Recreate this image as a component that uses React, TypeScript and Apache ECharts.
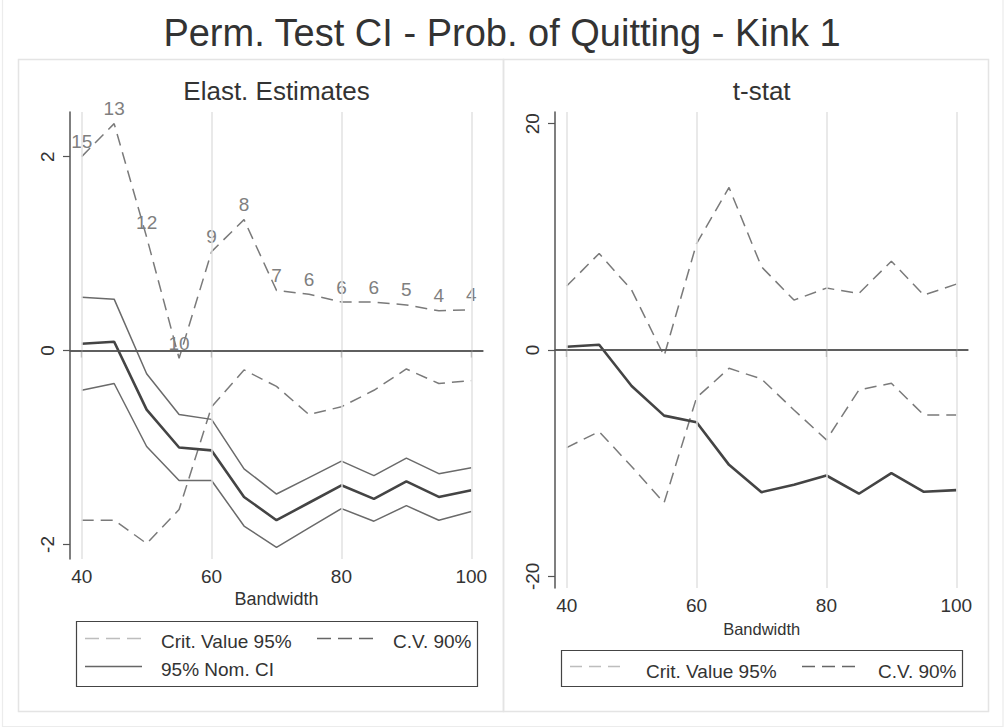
import React, { useEffect, useRef } from "react";
import * as echarts from "echarts";

const FONT = "'Liberation Sans', Arial, Helvetica, sans-serif";

const bandwidth = [40, 45, 50, 55, 60, 65, 70, 75, 80, 85, 90, 95, 100];
const xTicks = [40, 60, 80, 100];
const elastTicks = [-2, 0, 2];
const tTicks = [-20, 0, 20];

// Left panel: elasticity estimates
const cv90UpperElast = [2.0, 2.34, 1.17, -0.08, 1.02, 1.35, 0.62, 0.58, 0.5, 0.5, 0.47, 0.41, 0.42];
const cv90UpperLabels = ["15", "13", "12", "10", "9", "8", "7", "6", "6", "6", "5", "4", "4"];
const cv90LowerElast = [-1.75, -1.75, -1.99, -1.64, -0.58, -0.2, -0.37, -0.66, -0.58, -0.41, -0.19, -0.34, -0.31];
const estimate = [0.07, 0.09, -0.61, -1.0, -1.03, -1.51, -1.75, -1.57, -1.39, -1.53, -1.35, -1.51, -1.44];
const ciUpper = [0.55, 0.53, -0.24, -0.66, -0.71, -1.22, -1.48, -1.31, -1.14, -1.29, -1.11, -1.27, -1.21];
const ciLower = [-0.41, -0.34, -0.99, -1.34, -1.34, -1.81, -2.03, -1.83, -1.63, -1.76, -1.6, -1.75, -1.66];

// Right panel: t-stat
const tUpper = [5.65, 8.53, 5.3, -0.53, 9.41, 14.36, 7.35, 4.41, 5.47, 5.0, 7.85, 4.85, 5.82];
const tLower = [-8.62, -7.21, -10.3, -13.5, -4.21, -1.62, -2.56, -5.3, -7.94, -3.53, -2.94, -5.74, -5.74];
const tStat = [0.29, 0.47, -3.18, -5.8, -6.38, -10.15, -12.56, -11.9, -11.09, -12.7, -10.88, -12.53, -12.38];

const pairs = (arr: number[]) => bandwidth.map((b, i) => [b, arr[i]]);

const AXIS_COLOR = "#555555";
const DASH_COLOR = "#7a7a7a";
const CI_COLOR = "#6a6a6a";
const EST_COLOR = "#444444";
const DASH = [12, 7];

function makeXAxis(gridIndex: number) {
  return {
    type: "value",
    gridIndex,
    min: 38.2,
    max: 101.8,
    axisLine: { show: true, lineStyle: { color: AXIS_COLOR, width: 1.5 } },
    axisTick: { show: true, customValues: xTicks, length: 7, lineStyle: { color: AXIS_COLOR, width: 1.2 } },
    axisLabel: { customValues: xTicks, fontSize: 19, color: "#333", margin: 8, fontFamily: FONT },
    splitLine: { show: false },
  };
}

function makeYAxis(gridIndex: number, min: number, max: number, ticks: number[]) {
  return {
    type: "value",
    gridIndex,
    min,
    max,
    axisLine: { show: true, onZero: false, lineStyle: { color: AXIS_COLOR, width: 1.5 } },
    axisTick: { show: true, customValues: ticks, length: 7, lineStyle: { color: AXIS_COLOR, width: 1.2 } },
    axisLabel: { customValues: ticks, fontSize: 19, color: "#333", margin: 13, rotate: 90, fontFamily: FONT },
    splitLine: { show: false },
  };
}

function gridCarrier(idx: number) {
  return {
    type: "line",
    xAxisIndex: idx,
    yAxisIndex: idx,
    data: [],
    silent: true,
    z: 1,
    markLine: {
      silent: true,
      symbol: "none",
      label: { show: false },
      animation: false,
      data: [
        ...xTicks.map((v) => ({ xAxis: v, lineStyle: { color: "#e2e2e2", width: 1.5, type: "solid" } })),
        { yAxis: 0, lineStyle: { color: AXIS_COLOR, width: 1.5, type: "solid" } },
      ],
    },
  };
}

function lineSeries(idx: number, data: number[], color: string, width: number, dashed: boolean, extra: any = {}) {
  return {
    type: "line",
    xAxisIndex: idx,
    yAxisIndex: idx,
    data: pairs(data),
    symbol: "none",
    z: 3,
    lineStyle: { color, width, type: dashed ? DASH : "solid" },
    ...extra,
  };
}

function legendGraphics(): any[] {
  const txt = (x: number, y: number, text: string) => ({
    type: "text",
    x,
    y,
    style: { text, fontSize: 19, fontFamily: FONT, fill: "#333", verticalAlign: "middle" },
  });
  const ln = (x1: number, x2: number, y: number, color: string, dash: number[] | null) => ({
    type: "line",
    shape: { x1, y1: y, x2, y2: y },
    style: { stroke: color, lineWidth: 1.5, lineDash: dash || undefined },
  });
  return [
    // outer frame and panel frames
    { type: "rect", shape: { x: 2.5, y: -3, width: 1000.5, height: 729.5 }, style: { fill: "none", stroke: "#ececec", lineWidth: 1.2 } },
    { type: "rect", shape: { x: 18.5, y: 59.5, width: 485, height: 652 }, style: { fill: "none", stroke: "#e4e4e4", lineWidth: 1.5 } },
    { type: "rect", shape: { x: 503.5, y: 59.5, width: 485, height: 652 }, style: { fill: "none", stroke: "#e4e4e4", lineWidth: 1.5 } },
    // titles
    {
      type: "text",
      x: 502,
      y: 33,
      style: { text: "Perm. Test CI - Prob. of Quitting - Kink 1", fontSize: 38, fontFamily: FONT, fill: "#333", align: "center", verticalAlign: "middle" },
    },
    { type: "text", x: 276.5, y: 91, style: { text: "Elast. Estimates", fontSize: 26, fontFamily: FONT, fill: "#333", align: "center", verticalAlign: "middle" } },
    { type: "text", x: 761.7, y: 91, style: { text: "t-stat", fontSize: 26, fontFamily: FONT, fill: "#333", align: "center", verticalAlign: "middle" } },
    { type: "text", x: 276.5, y: 598.5, style: { text: "Bandwidth", fontSize: 18, fontFamily: FONT, fill: "#333", align: "center", verticalAlign: "middle" } },
    { type: "text", x: 761.7, y: 629.3, style: { text: "Bandwidth", fontSize: 16.5, fontFamily: FONT, fill: "#333", align: "center", verticalAlign: "middle" } },
    // left legend
    { type: "rect", shape: { x: 76.5, y: 621.5, width: 401, height: 65 }, style: { fill: "#fff", stroke: "#444", lineWidth: 1.2 } },
    ln(85, 142, 638.5, "#bdbdbd", [14, 7]),
    txt(161, 641.5, "Crit. Value 95%"),
    ln(317, 375, 638.5, "#666", [14, 7]),
    txt(393, 641.5, "C.V. 90%"),
    ln(85, 142, 666.5, "#666", null),
    txt(161, 669.5, "95% Nom. CI"),
    // right legend
    { type: "rect", shape: { x: 561.5, y: 650.5, width: 401, height: 36 }, style: { fill: "#fff", stroke: "#444", lineWidth: 1.2 } },
    ln(570, 620, 666.5, "#bdbdbd", [12, 7]),
    txt(646, 671, "Crit. Value 95%"),
    ln(802, 855, 666.5, "#666", [13, 7]),
    txt(878, 671, "C.V. 90%"),
  ];
}

export default function App() {
  const ref = useRef<HTMLDivElement>(null);
  useEffect(() => {
    if (!ref.current) return;
    const chart = echarts.init(ref.current, null, { renderer: "svg" });
    const option: any = {
      animation: false,
      backgroundColor: "#ffffff",
      textStyle: { fontFamily: FONT },
      grid: [
        { left: 70, top: 112, width: 413, height: 447, containLabel: false },
        { left: 555, top: 112, width: 413, height: 476, containLabel: false },
      ],
      xAxis: [makeXAxis(0), makeXAxis(1)],
      yAxis: [makeYAxis(0, -2.15, 2.46, elastTicks), makeYAxis(1, -21.03, 21.03, tTicks)],
      series: [
        gridCarrier(0),
        gridCarrier(1),
        lineSeries(0, cv90UpperElast, DASH_COLOR, 1.5, true, {
          name: "C.V. 90%",
          symbol: "circle",
          symbolSize: 1,
          showSymbol: true,
          itemStyle: { color: "rgba(0,0,0,0)", borderWidth: 0 },
          label: {
            show: true,
            position: "top",
            distance: 5,
            fontSize: 19,
            color: "#7f7f7f",
            fontFamily: FONT,
            formatter: (p: any) => cv90UpperLabels[p.dataIndex],
          },
        }),
        lineSeries(0, cv90LowerElast, DASH_COLOR, 1.5, true, { name: "C.V. 90%" }),
        lineSeries(0, ciUpper, CI_COLOR, 1.5, false, { name: "95% Nom. CI" }),
        lineSeries(0, ciLower, CI_COLOR, 1.5, false, { name: "95% Nom. CI" }),
        lineSeries(0, estimate, EST_COLOR, 2.6, false, { name: "Estimate" }),
        lineSeries(1, tUpper, DASH_COLOR, 1.5, true, { name: "C.V. 90%" }),
        lineSeries(1, tLower, DASH_COLOR, 1.5, true, { name: "C.V. 90%" }),
        lineSeries(1, tStat, EST_COLOR, 2.6, false, { name: "t-stat" }),
      ],
      graphic: legendGraphics(),
    };
    chart.setOption(option);
    return () => chart.dispose();
  }, []);
  return (
    <div
      ref={ref}
      style={{ position: "absolute", left: 0, top: 0, width: 1004, height: 727, background: "#fff" }}
    />
  );
}
